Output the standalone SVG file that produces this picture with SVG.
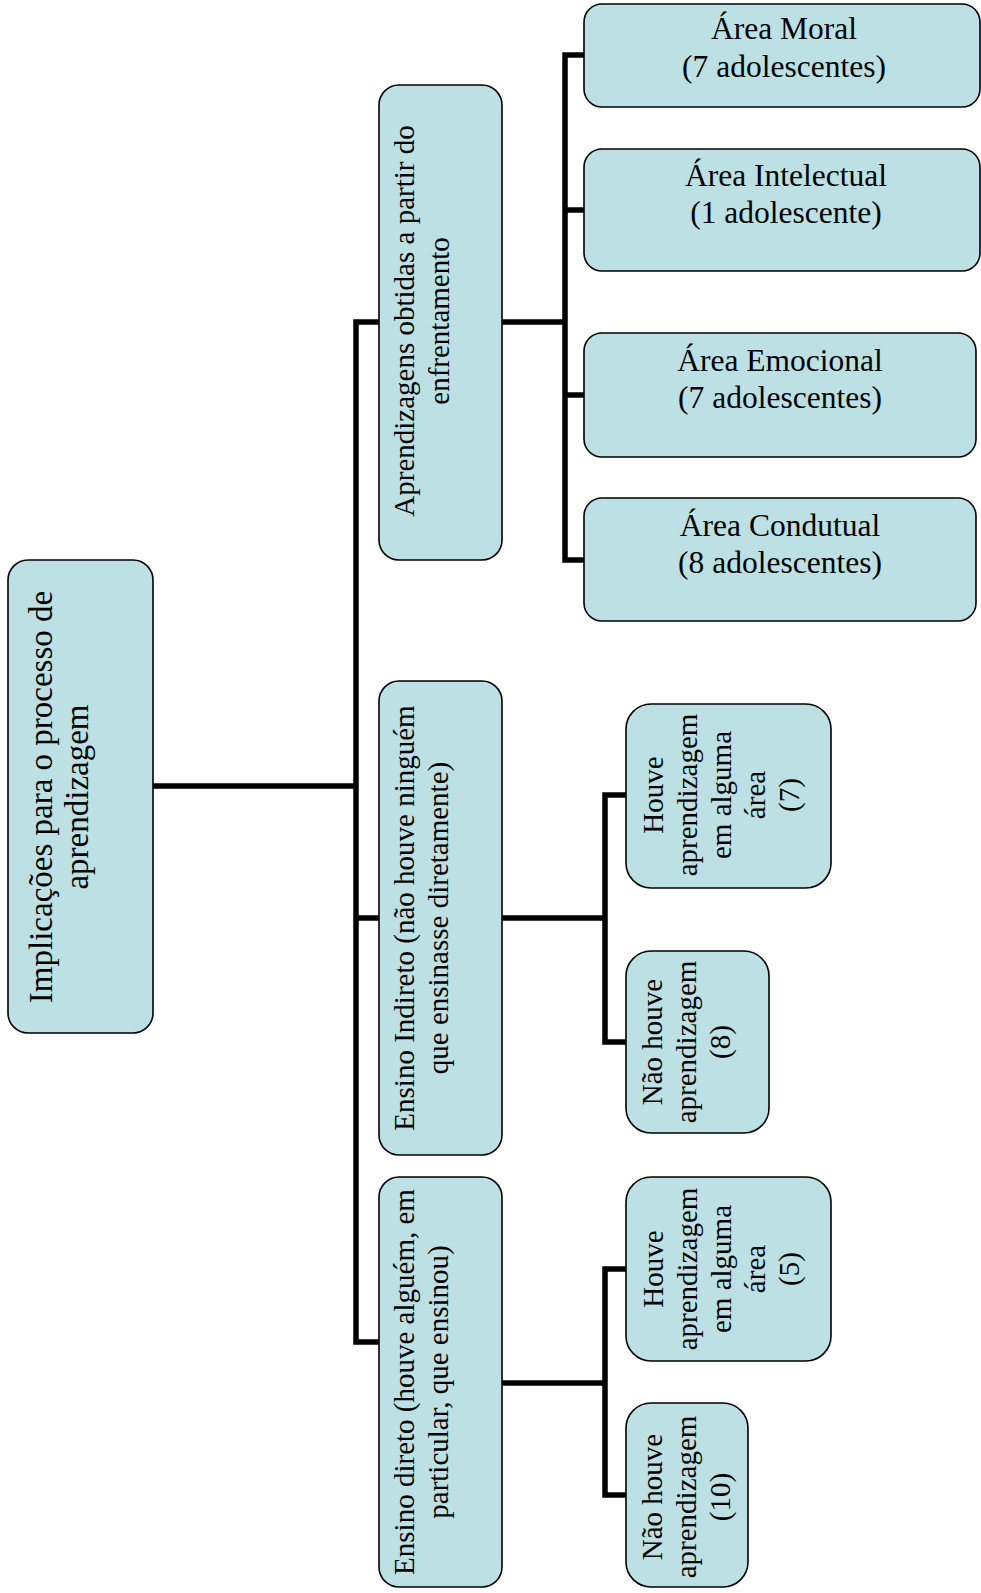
<svg xmlns="http://www.w3.org/2000/svg" width="981" height="1593" viewBox="0 0 981 1593">
<style>
.box{fill:#bce0e3;stroke:#000;stroke-width:1.6}
.t{font-family:"Liberation Serif","Times New Roman",serif;fill:#000;text-anchor:middle}
.big{font-size:33px}
.mid{font-size:29px}
.area{font-size:31.5px}
.con{fill:none;stroke:#000;stroke-width:5.5;stroke-linejoin:miter;stroke-linecap:butt}
</style>
<rect width="981" height="1593" fill="#fff"/>
<g id="connectors">
<path class="con" d="M153 786 H356"/>
<path class="con" d="M379 322 H356 V1342 H379"/>
<path class="con" d="M356 918 H379"/>
<path class="con" d="M502 322 H565"/>
<path class="con" d="M584 55 H565 V560 H584"/>
<path class="con" d="M565 210 H584"/>
<path class="con" d="M565 395 H584"/>
<path class="con" d="M502 918 H605"/>
<path class="con" d="M626 795 H605 V1042 H626"/>
<path class="con" d="M502 1383 H605"/>
<path class="con" d="M626 1269 H605 V1495 H626"/>
</g>
<g id="root">
<rect class="box" x="8" y="560" width="145" height="473" rx="20"/>
<text class="t big" transform="translate(0 797) rotate(-90)"><tspan x="0" y="52">Implicações para o processo de</tspan><tspan x="0" y="88">aprendizagem</tspan></text>
</g>
<g id="aprendizagens">
<rect class="box" x="379" y="85" width="123" height="475" rx="20"/>
<text class="t mid" transform="translate(0 321) rotate(-90)"><tspan x="0" y="414">Aprendizagens obtidas a partir do</tspan><tspan x="0" y="449">enfrentamento</tspan></text>
</g>
<g id="ensino-indireto">
<rect class="box" x="379" y="681" width="123" height="474" rx="20"/>
<text class="t mid" transform="translate(0 918) rotate(-90)"><tspan x="0" y="414">Ensino Indireto (não houve ninguém</tspan><tspan x="0" y="448">que ensinasse diretamente)</tspan></text>
</g>
<g id="ensino-direto">
<rect class="box" x="379" y="1177" width="123" height="410" rx="20"/>
<text class="t mid" transform="translate(0 1382) rotate(-90)"><tspan x="0" y="414">Ensino direto (houve alguém, em</tspan><tspan x="0" y="448">particular, que ensinou)</tspan></text>
</g>
<g id="area-moral">
<rect class="box" x="584" y="4" width="396" height="103" rx="18"/>
<text class="t area"><tspan x="784" y="39">Área Moral</tspan><tspan x="784" y="77">(7 adolescentes)</tspan></text>
</g>
<g id="area-intelectual">
<rect class="box" x="584" y="149" width="396" height="122" rx="18"/>
<text class="t area"><tspan x="786" y="186">Área Intelectual</tspan><tspan x="786" y="223">(1 adolescente)</tspan></text>
</g>
<g id="area-emocional">
<rect class="box" x="584" y="333" width="392" height="124" rx="18"/>
<text class="t area"><tspan x="780" y="371">Área Emocional</tspan><tspan x="780" y="408">(7 adolescentes)</tspan></text>
</g>
<g id="area-condutual">
<rect class="box" x="584" y="498" width="392" height="123" rx="18"/>
<text class="t area"><tspan x="780" y="536">Área Condutual</tspan><tspan x="780" y="573">(8 adolescentes)</tspan></text>
</g>
<g id="indireto-houve">
<rect class="box" x="626" y="704" width="205" height="184" rx="25"/>
<text class="t mid" transform="translate(0 795) rotate(-90)"><tspan x="0" y="663">Houve</tspan><tspan x="0" y="697">aprendizagem</tspan><tspan x="0" y="731">em alguma</tspan><tspan x="0" y="765">área</tspan><tspan x="0" y="799">(7)</tspan></text>
</g>
<g id="indireto-nao">
<rect class="box" x="626" y="951" width="143" height="182" rx="25"/>
<text class="t mid" transform="translate(0 1042) rotate(-90)"><tspan x="0" y="662">Não houve</tspan><tspan x="0" y="696">aprendizagem</tspan><tspan x="0" y="730">(8)</tspan></text>
</g>
<g id="direto-houve">
<rect class="box" x="626" y="1177" width="205" height="184" rx="25"/>
<text class="t mid" transform="translate(0 1269) rotate(-90)"><tspan x="0" y="663">Houve</tspan><tspan x="0" y="697">aprendizagem</tspan><tspan x="0" y="731">em alguma</tspan><tspan x="0" y="765">área</tspan><tspan x="0" y="799">(5)</tspan></text>
</g>
<g id="direto-nao">
<rect class="box" x="626" y="1403" width="122" height="184" rx="25"/>
<text class="t mid" transform="translate(0 1497) rotate(-90)"><tspan x="0" y="662">Não houve</tspan><tspan x="0" y="696">aprendizagem</tspan><tspan x="0" y="730">(10)</tspan></text>
</g>
</svg>
